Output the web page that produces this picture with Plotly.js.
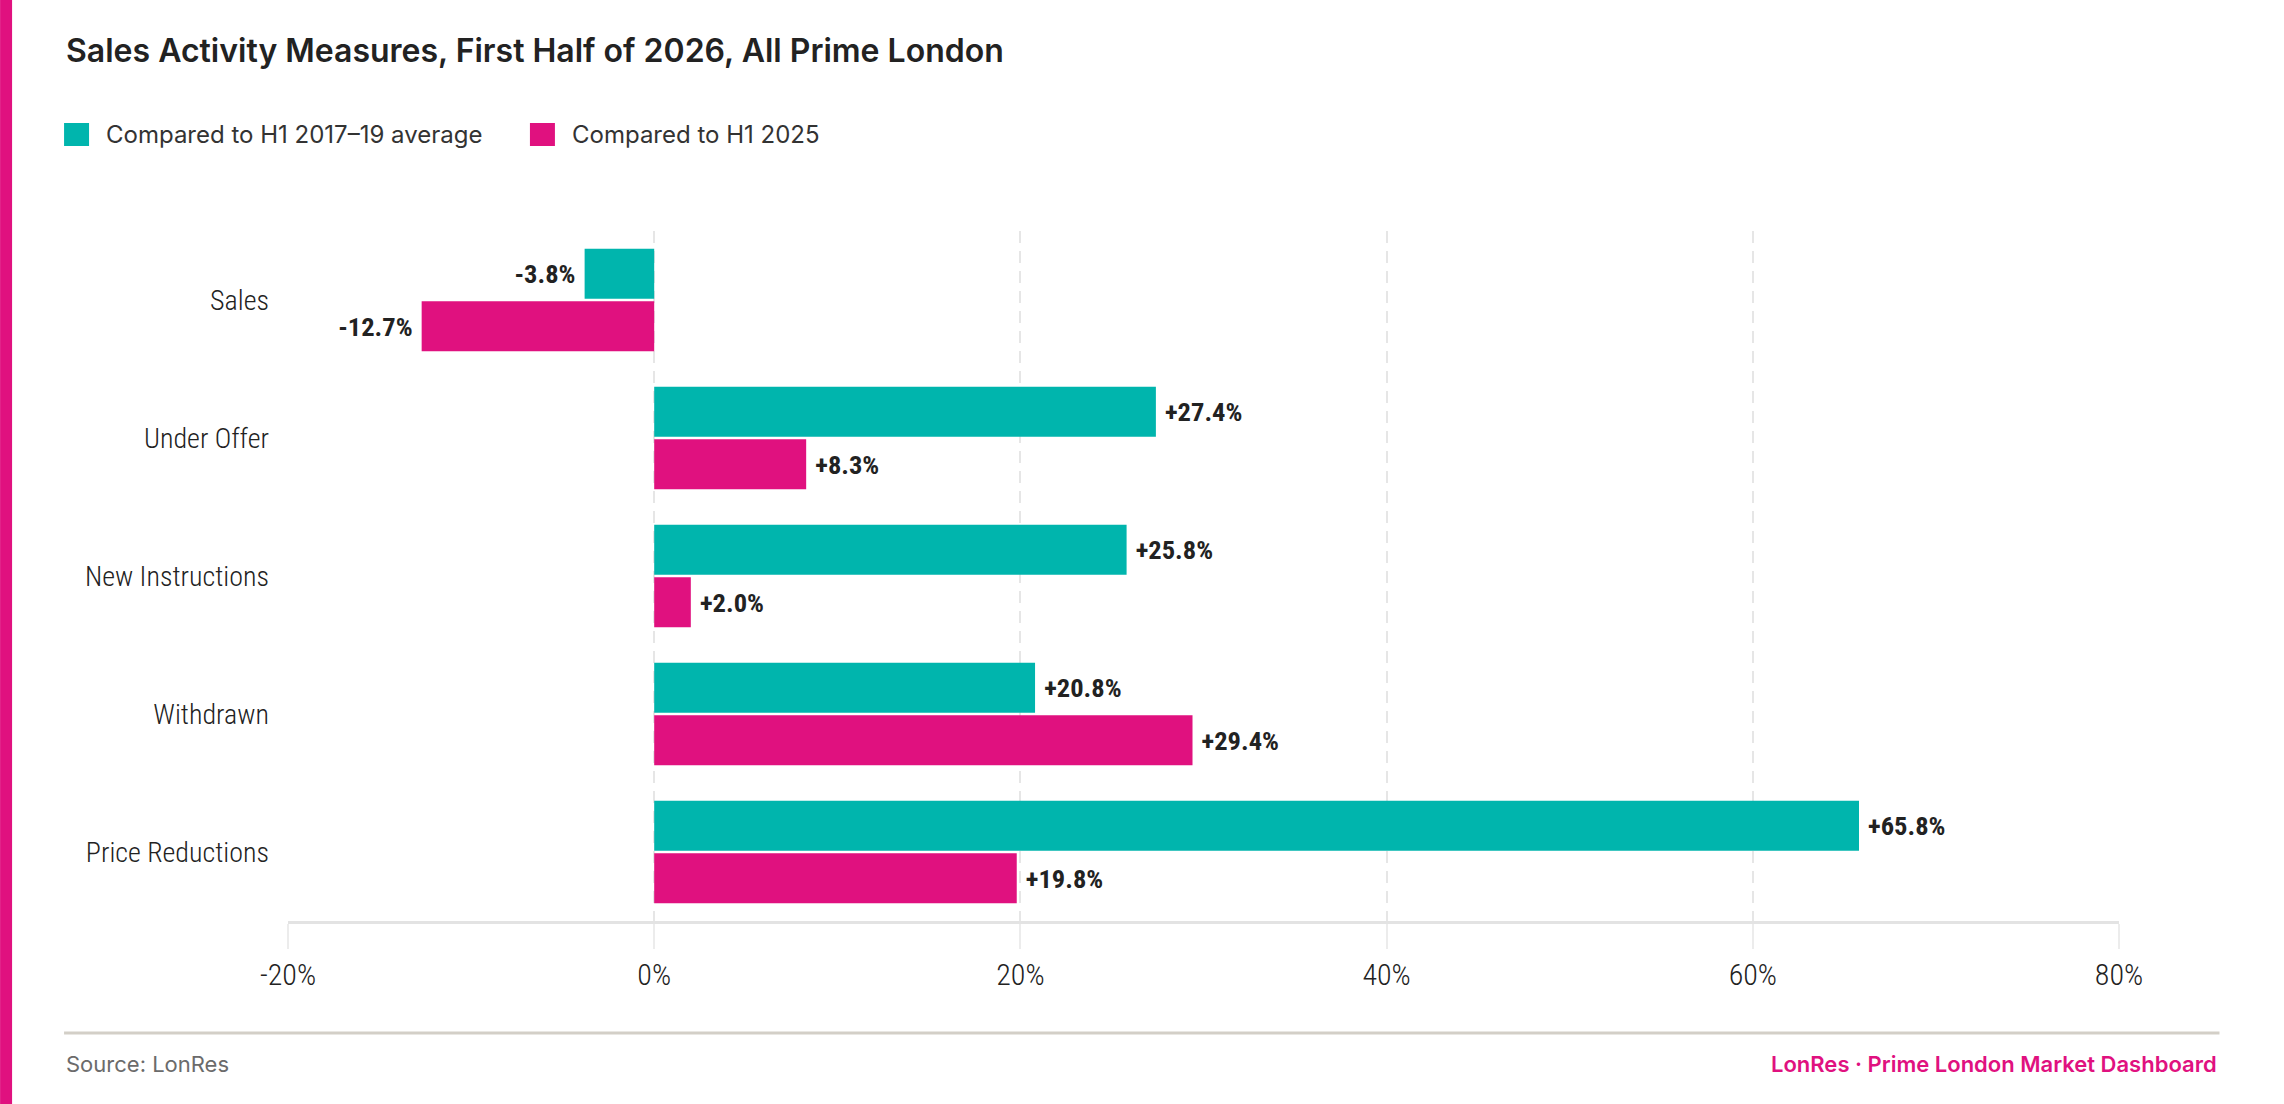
<!DOCTYPE html>
<html>
<head>
<meta charset="utf-8">
<script src="https://cdn.plot.ly/plotly-3.0.1.min.js"></script>
<style>
  html, body { margin: 0; padding: 0; background: #fff; }
  #chart_div { width: 2284px; height: 1104px; }
</style>
</head>
<body>
<div id="chart_div"></div>
<script>
// chart data
var categories = ['Sales', 'Under Offer', 'New Instructions', 'Withdrawn', 'Price Reductions'];
var vs_2017_19 = [-3.8, 27.4, 25.8, 20.8, 65.8];
var vs_2025 = [-12.7, 8.3, 2.0, 29.4, 19.8];
var series_names = ['Compared to H1 2017\u201319 average', 'Compared to H1 2025'];
var x_tick_vals = [-20, 0, 20, 40, 60, 80];
var x_tick_labels = ['-20%', '0%', '20%', '40%', '60%', '80%'];

var TEAL = '#00b5ad';
var PINK = '#e0117f';
var NARROW = '"Roboto Condensed", Roboto, sans-serif';
var INTER = 'Inter, "Noto Sans", sans-serif';

var W = 2284, H = 1104;
var M = {l: 288, r: 164.5, t: 231, b: 183};

// pixel -> paper helpers, for the frame around the plot
function px(x) { return (x - M.l) / (W - M.l - M.r); }
function py(y) { return (H - M.b - y) / (H - M.t - M.b); }

// "+27.4%" style labels, nbsp keeps a bit of air next to the bar end
function bar_labels(vals) {
	return vals.map(function (v) {
		var s = (v > 0 ? '+' : '') + v.toFixed(1) + '%';
		return v < 0 ? s + '\u00a0' : '\u00a0' + s;
	});
}

function make_trace(vals, name, color) {
	return {
		type: 'bar',
		orientation: 'h',
		y: categories,
		x: vals,
		name: name,
		marker: {color: color, line: {width: 0}},
		text: bar_labels(vals),
		textposition: 'outside',
		constraintext: 'none',
		cliponaxis: false,
		textfont: {family: NARROW, size: 26.5, color: '#222', weight: 700},
		hoverinfo: 'skip'
	};
}

var data = [
	make_trace(vs_2017_19, series_names[0], TEAL),
	make_trace(vs_2025, series_names[1], PINK)
];

var shapes = [
	// pink stripe down the left edge
	{type: 'rect', xref: 'paper', yref: 'paper', x0: px(0), x1: px(12), y0: py(0), y1: py(H),
		fillcolor: PINK, line: {width: 0}, layer: 'below'},
	// footer rule
	{type: 'line', xref: 'paper', yref: 'paper', x0: px(64), x1: px(2220), y0: py(1033), y1: py(1033),
		line: {color: '#d3cfc7', width: 3}}
];

var annotations = [
	{xref: 'paper', yref: 'paper', x: px(64), y: py(51), xanchor: 'left', yanchor: 'middle',
		showarrow: false, text: 'Sales Activity Measures, First Half of 2026, All Prime London',
		font: {family: INTER, size: 32, color: '#222', weight: 600}},
	{xref: 'paper', yref: 'paper', x: px(64), y: py(1064), xanchor: 'left', yanchor: 'middle',
		showarrow: false, text: 'Source: LonRes',
		font: {family: INTER, size: 22, color: '#6b6b6b'}},
	{xref: 'paper', yref: 'paper', x: px(2220), y: py(1064), xanchor: 'right', yanchor: 'middle',
		showarrow: false, text: 'LonRes \u00b7 Prime London Market Dashboard',
		font: {family: INTER, size: 22, color: PINK, weight: 600}}
];

// hand made legend, plotly's bar swatches don't scale up
var legend_x = [64, 530];
var legend_colors = [TEAL, PINK];
for (var i = 0; i < series_names.length; i++) {
	shapes.push({type: 'rect', xref: 'paper', yref: 'paper',
		x0: px(legend_x[i]), x1: px(legend_x[i] + 25), y0: py(123), y1: py(146),
		fillcolor: legend_colors[i], line: {width: 0}});
	annotations.push({xref: 'paper', yref: 'paper', x: px(legend_x[i] + 40), y: py(134.5),
		xanchor: 'left', yanchor: 'middle', showarrow: false, text: series_names[i],
		font: {family: INTER, size: 24, color: '#333'}});
}

var layout = {
	width: W,
	height: H,
	margin: M,
	paper_bgcolor: '#fff',
	plot_bgcolor: '#fff',
	showlegend: false,
	barmode: 'group',
	bargap: 0.238,
	bargroupgap: 0.05,
	xaxis: {
		range: [-20, 80],
		tickvals: x_tick_vals,
		ticktext: x_tick_labels,
		showgrid: true,
		gridcolor: '#e6e6e6',
		gridwidth: 2,
		griddash: '12px,8px',
		zeroline: false,
		showline: true,
		linecolor: '#e3e3e3',
		linewidth: 3,
		ticks: 'outside',
		ticklen: 25,
		tickwidth: 2,
		tickcolor: '#ececec',
		tickfont: {family: NARROW, size: 30, color: '#222', weight: 300},
		fixedrange: true
	},
	yaxis: {
		autorange: 'reversed',
		showgrid: false,
		zeroline: false,
		showline: false,
		ticks: '',
		ticklabelstandoff: 18,
		tickfont: {family: NARROW, size: 28, color: '#222', weight: 300},
		fixedrange: true
	},
	shapes: shapes,
	annotations: annotations
};

Plotly.newPlot('chart_div', data, layout, {displayModeBar: false, staticPlot: true});
</script>
</body>
</html>
